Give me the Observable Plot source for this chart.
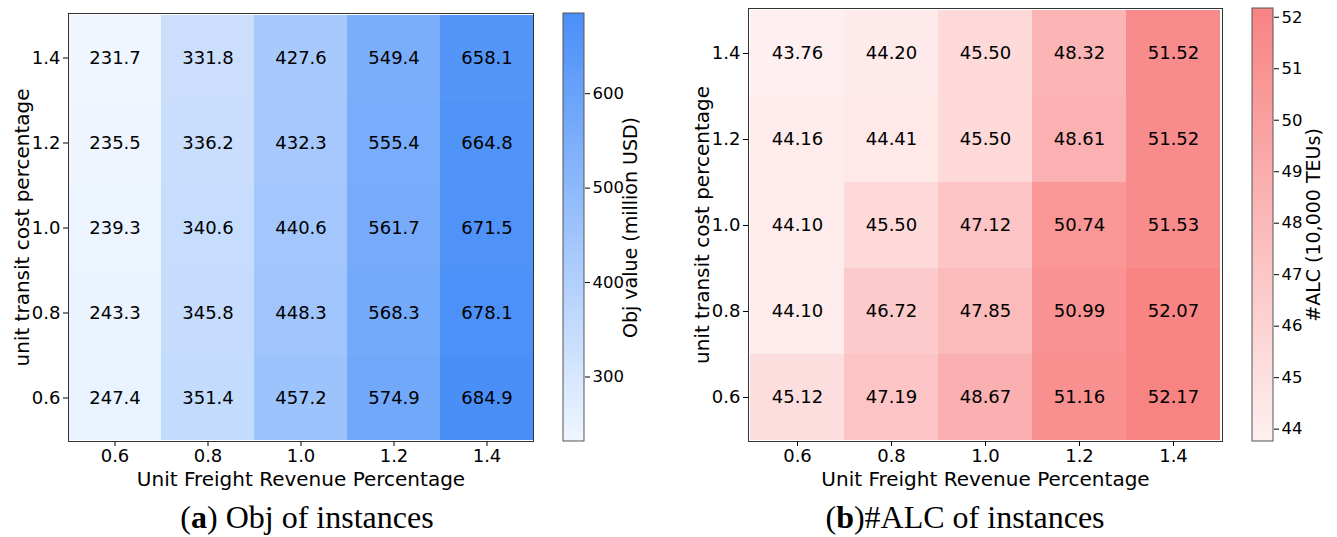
<!DOCTYPE html>
<html>
<head>
<meta charset="utf-8">
<script src="https://cdn.jsdelivr.net/npm/d3@7"></script>
<script src="https://cdn.jsdelivr.net/npm/@observablehq/plot@0.6"></script>
<style>
  html, body { margin: 0; padding: 0; background: #fff; }
  #root { position: relative; width: 1337px; height: 537px; overflow: hidden; font-family: "DejaVu Sans", sans-serif; }
  .abs { position: absolute; top: 0; }
  .cap { position: absolute; top: 497px; font-family: "Liberation Serif", "DejaVu Serif", serif; font-size: 32px; color: #000; white-space: nowrap; transform: translateX(-50%); line-height: 40px; }
</style>
</head>
<body>
<div id="root"></div>
<script>
// ---- data ----
const freightLevels = ["0.6", "0.8", "1.0", "1.2", "1.4"];          // x categories
const transitLevels = ["1.4", "1.2", "1.0", "0.8", "0.6"];          // y categories, top to bottom

// Obj value (million USD), one array per transit cost level (columns = freight levels)
const obj_t14 = [231.7, 331.8, 427.6, 549.4, 658.1];
const obj_t12 = [235.5, 336.2, 432.3, 555.4, 664.8];
const obj_t10 = [239.3, 340.6, 440.6, 561.7, 671.5];
const obj_t08 = [243.3, 345.8, 448.3, 568.3, 678.1];
const obj_t06 = [247.4, 351.4, 457.2, 574.9, 684.9];

// #ALC (10,000 TEUs)
const alc_t14 = [43.76, 44.20, 45.50, 48.32, 51.52];
const alc_t12 = [44.16, 44.41, 45.50, 48.61, 51.52];
const alc_t10 = [44.10, 45.50, 47.12, 50.74, 51.53];
const alc_t08 = [44.10, 46.72, 47.85, 50.99, 52.07];
const alc_t06 = [45.12, 47.19, 48.67, 51.16, 52.17];

const objTicks = [300, 400, 500, 600];
const alcTicks = [44, 45, 46, 47, 48, 49, 50, 51, 52];

const blueRange = ["#eff6ff", "#4a8ff8"];
const redRange = ["#fef0f0", "#f88383"];

// ---- build tables ----
function table(rows) {
  return rows.flatMap((row, i) => row.map((v, j) => ({x: freightLevels[j], y: transitLevels[i], v})));
}
const objData = table([obj_t14, obj_t12, obj_t10, obj_t08, obj_t06]);
const alcData = table([alc_t14, alc_t12, alc_t10, alc_t08, alc_t06]);

const FONT = {fontFamily: "DejaVu Sans, sans-serif", fontSize: "16px", color: "#000", background: "transparent", overflow: "visible"};

// resize text nodes whose content matches a pattern (axis tick labels / axis titles)
function sizeText(svg, test, px) {
  d3.select(svg).selectAll("text").filter(function() { return test(this.textContent); })
    .attr("font-size", px).style("font-size", px + "px");
}

function heatmap(data, range, digits, m) {
  const ext = d3.extent(data, d => d.v);
  const xLabel = "Unit Freight Revenue Percentage", yLabel = "unit transit cost percentage";
  const svg = Plot.plot({
    width: m.width, height: 490,
    marginLeft: m.left, marginRight: m.right, marginTop: m.top, marginBottom: 49,
    style: FONT,
    x: {type: "band", domain: freightLevels, padding: 0},
    y: {type: "band", domain: transitLevels, padding: 0},
    color: {type: "linear", domain: ext, range, interpolate: "rgb"},
    marks: [
      Plot.cell(data, {x: "x", y: "y", fill: "v", inset: 0}),
      Plot.text(data, {x: "x", y: "y", text: d => d.v.toFixed(digits), fill: "#000", fontSize: 18}),
      Plot.frame({stroke: "#333", strokeWidth: 1}),
      Plot.axisX({tickSize: 5, tickPadding: 3, label: xLabel,
                  labelAnchor: "center", labelArrow: "none", labelOffset: 44}),
      Plot.axisY({tickSize: 5, tickPadding: 3, label: yLabel,
                  labelAnchor: "center", labelArrow: "none", labelOffset: 54})
    ]
  });
  sizeText(svg, t => freightLevels.includes(t), 18);
  sizeText(svg, t => t === xLabel || t === yLabel, 20);
  return svg;
}

function colorbar(data, range, ticks, label, id, m) {
  const ext = d3.extent(data, d => d.v);
  const defs = () => {
    const g = d3.create("svg:defs");
    const lg = g.append("linearGradient").attr("id", id)
      .attr("x1", 0).attr("y1", 1).attr("x2", 0).attr("y2", 0);
    lg.append("stop").attr("offset", "0%").attr("stop-color", range[0]);
    lg.append("stop").attr("offset", "100%").attr("stop-color", range[1]);
    return g.node();
  };
  const svg = Plot.plot({
    width: m.width, height: 490,
    marginLeft: m.left, marginRight: m.width - m.left - 21, marginTop: m.top, marginBottom: 49,
    style: FONT,
    x: {domain: [0, 1], axis: null},
    y: {domain: ext},
    marks: [
      defs,
      Plot.rect([{lo: ext[0], hi: ext[1]}], {x1: 0, x2: 1, y1: "lo", y2: "hi", fill: `url(#${id})`,
                stroke: "#555", strokeWidth: 1}),
      Plot.axisY({anchor: "right", ticks, tickSize: 5, tickPadding: 3,
                  tickFormat: d3.format("d"), label, labelAnchor: "center", labelArrow: "none", labelOffset: m.labelOffset})
    ]
  });
  sizeText(svg, t => ticks.map(String).includes(t), 16.5);
  sizeText(svg, t => t === label, 19);
  return svg;
}

const root = document.getElementById("root");
function place(node, left) {
  const d = document.createElement("div");
  d.className = "abs";
  d.style.left = left + "px";
  d.appendChild(node);
  root.appendChild(d);
}

place(heatmap(objData, blueRange, 1, {width: 560, left: 68, right: 27, top: 13}), 0);
place(colorbar(objData, blueRange, objTicks, "Obj value (million USD)", "gBlue", {width: 100, left: 8, top: 13, labelOffset: 52}), 555);
place(heatmap(alcData, redRange, 2, {width: 560, left: 68, right: 18, top: 8}), 680);
place(colorbar(alcData, redRange, alcTicks, "#ALC (10,000 TEUs)", "gRed", {width: 92, left: 7, top: 8, labelOffset: 46}), 1245);

const capA = document.createElement("div");
capA.className = "cap"; capA.style.left = "307px";
capA.innerHTML = "(<b>a</b>) Obj of instances";
root.appendChild(capA);
const capB = document.createElement("div");
capB.className = "cap"; capB.style.left = "965px";
capB.innerHTML = "(<b>b</b>)#ALC of instances";
root.appendChild(capB);
</script>
</body>
</html>
